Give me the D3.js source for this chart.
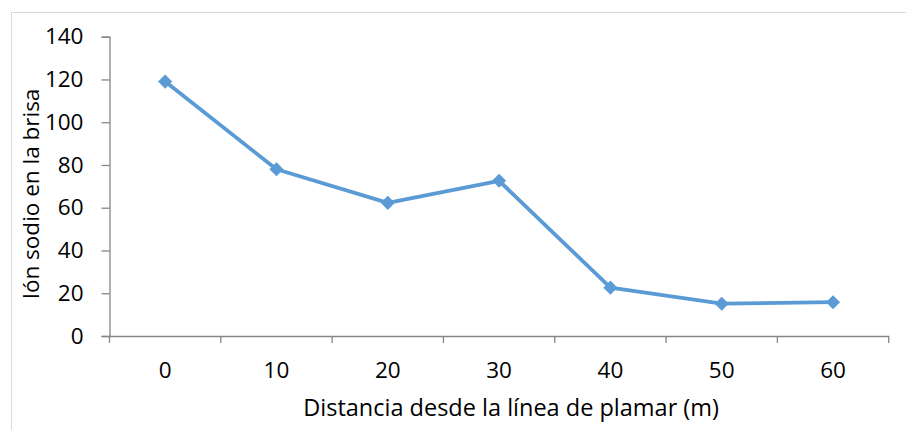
<!DOCTYPE html>
<html><head><meta charset="utf-8">
<script src="https://cdn.jsdelivr.net/npm/d3@7"></script>
<style>html,body{margin:0;padding:0;background:#fff;}svg{display:block;}</style>
</head><body>
<script>
const categories = ["0","10","20","30","40","50","60"];
const values = [119, 78, 62.3, 72.6, 22.6, 15.1, 15.8];
const yTicks = [0,20,40,60,80,100,120,140];
const xTitle = "Distancia desde la línea de plamar (m)";
const yTitle = "Ión sodio en la brisa";

(function(){
const W = 906, H = 430;
const font = "'Open Sans', sans-serif";
const svg = d3.select("body").append("svg").attr("width", W).attr("height", H);

svg.append("rect").attr("x", 11.5).attr("y", 12.5).attr("width", W + 10).attr("height", H + 10)
  .attr("fill", "#fff").attr("stroke", "#d9d9d9").attr("stroke-width", 1);

const pLeft = 109.5, pRight = 888.7, pTop = 36.7, pBottom = 336;
const x = d3.scaleBand().domain(categories).range([pLeft, pRight]);
const y = d3.scaleLinear().domain([0, 140]).range([pBottom, pTop]);
const axisColor = "#868686";

// Y axis
const ya = svg.append("g").attr("transform", `translate(${pLeft},0)`)
  .call(d3.axisLeft(y).tickValues(yTicks).tickSize(8).tickPadding(18));
ya.select(".domain").attr("stroke", axisColor).attr("stroke-width", 1.3);
ya.selectAll(".tick line").attr("stroke", axisColor).attr("stroke-width", 1.3);
ya.selectAll(".tick text").attr("font-family", font).attr("font-size", 22.5).attr("fill", "#000");

// X axis
const xa = svg.append("g").attr("transform", `translate(0,${pBottom})`)
  .call(d3.axisBottom(x).tickSize(0).tickPadding(26));
xa.select(".domain").attr("stroke", axisColor).attr("stroke-width", 1.3);
xa.selectAll(".tick text").attr("font-family", font).attr("font-size", 22.5).attr("fill", "#000");
const bounds = categories.map(c => x(c)).concat([x.range()[1]]);
xa.selectAll(".bt").data(bounds).enter().append("line")
  .attr("x1", d => d).attr("x2", d => d).attr("y1", 0).attr("y2", 7)
  .attr("stroke", axisColor).attr("stroke-width", 1.3);

// Line
const cx = c => x(c) + x.bandwidth() / 2;
const data = categories.map((c, i) => ({c, v: values[i]}));
svg.append("path").datum(data)
  .attr("d", d3.line().x(d => cx(d.c)).y(d => y(d.v)))
  .attr("fill", "none").attr("stroke", "#5b9bd5").attr("stroke-width", 3.8).attr("stroke-linejoin", "round");
svg.selectAll(".m").data(data).enter().append("path")
  .attr("d", d3.symbol(d3.symbolSquare, 100)())
  .attr("transform", d => `translate(${cx(d.c)},${y(d.v)}) rotate(45)`)
  .attr("fill", "#5b9bd5");

// Titles
svg.append("text").attr("x", (pLeft + pRight) / 2 + 12).attr("y", 416)
  .attr("text-anchor", "middle").attr("font-family", font).attr("font-size", 23.5).text(xTitle);
svg.append("text").attr("transform", `translate(39,${194}) rotate(-90)`)
  .attr("text-anchor", "middle").attr("font-family", font).attr("font-size", 22.5).text(yTitle);
})();
</script>
</body></html>
